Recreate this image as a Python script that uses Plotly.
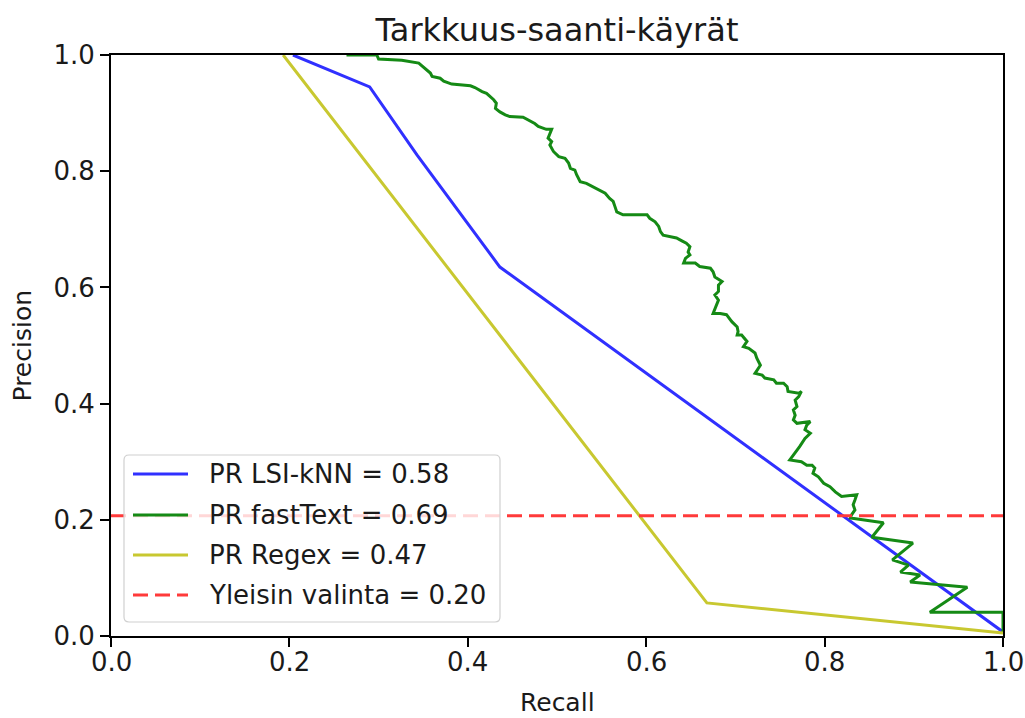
import plotly.graph_objects as go

# ---- data ----
lsi_recall = [0.204, 0.290, 0.343, 0.436, 1.0]
lsi_precision = [1.0, 0.945, 0.828, 0.635, 0.007]

regex_recall = [0.193, 0.668, 1.0]
regex_precision = [1.0, 0.057, 0.005]

ft_recall = [0.264, 0.298, 0.300, 0.326, 0.345, 0.348, 0.354, 0.358, 0.360, 0.369,
             0.373, 0.382, 0.403, 0.408, 0.416, 0.421, 0.429, 0.432, 0.431, 0.436,
             0.442, 0.447, 0.462, 0.470, 0.475, 0.479, 0.488, 0.494, 0.492, 0.490,
             0.494, 0.492, 0.496, 0.502, 0.509, 0.513, 0.515, 0.520, 0.522, 0.526,
             0.533, 0.541, 0.546, 0.554, 0.559, 0.563, 0.565, 0.567, 0.574, 0.601,
             0.604, 0.610, 0.614, 0.616, 0.619, 0.627, 0.634, 0.640, 0.645, 0.649,
             0.647, 0.649, 0.644, 0.642, 0.655, 0.660, 0.672, 0.675, 0.677, 0.685,
             0.681, 0.681, 0.677, 0.681, 0.677, 0.675, 0.683, 0.690, 0.696, 0.702,
             0.703, 0.702, 0.707, 0.713, 0.709, 0.715, 0.722, 0.724, 0.728, 0.724,
             0.722, 0.730, 0.733, 0.743, 0.746, 0.754, 0.758, 0.759, 0.771, 0.774,
             0.771, 0.767, 0.769, 0.765, 0.767, 0.765, 0.769, 0.784, 0.780, 0.778,
             0.784, 0.778, 0.772, 0.761, 0.774, 0.780, 0.786, 0.789, 0.787, 0.793,
             0.799, 0.806, 0.812, 0.819, 0.836, 0.834, 0.832, 0.834, 0.830, 0.829,
             0.866, 0.853, 0.899, 0.876, 0.894, 0.885, 0.907, 0.896, 0.960, 0.918,
             1.0, 1.0]
ft_precision = [1.0, 1.0, 0.993, 0.991, 0.986, 0.982, 0.974, 0.969, 0.963, 0.960,
                0.955, 0.950, 0.947, 0.944, 0.937, 0.934, 0.923, 0.917, 0.908, 0.902,
                0.897, 0.894, 0.893, 0.887, 0.882, 0.877, 0.872, 0.872, 0.865, 0.857,
                0.851, 0.845, 0.834, 0.825, 0.822, 0.814, 0.805, 0.802, 0.794, 0.782,
                0.779, 0.773, 0.768, 0.762, 0.753, 0.748, 0.739, 0.730, 0.725, 0.725,
                0.719, 0.713, 0.705, 0.696, 0.690, 0.687, 0.685, 0.680, 0.676, 0.670,
                0.661, 0.656, 0.650, 0.642, 0.642, 0.636, 0.633, 0.627, 0.618, 0.610,
                0.604, 0.593, 0.587, 0.578, 0.564, 0.555, 0.555, 0.553, 0.541, 0.532,
                0.524, 0.518, 0.518, 0.507, 0.498, 0.495, 0.487, 0.478, 0.466, 0.458,
                0.452, 0.449, 0.444, 0.441, 0.435, 0.435, 0.429, 0.421, 0.418, 0.421,
                0.412, 0.406, 0.395, 0.389, 0.380, 0.372, 0.366, 0.369, 0.363, 0.355,
                0.349, 0.340, 0.326, 0.303, 0.300, 0.294, 0.294, 0.289, 0.280, 0.274,
                0.263, 0.257, 0.248, 0.240, 0.243, 0.234, 0.226, 0.217, 0.208, 0.203,
                0.195, 0.170, 0.160, 0.131, 0.122, 0.110, 0.105, 0.093, 0.084, 0.041,
                0.041, 0.007]

baseline = 0.207
baseline_x = [0.0, 1.0]

legend_labels = ["PR LSI-kNN = 0.58", "PR fastText = 0.69", "PR Regex = 0.47",
                 "Yleisin valinta = 0.20"]
tick_vals = [0.0, 0.2, 0.4, 0.6, 0.8, 1.0]
tick_text = ["0.0", "0.2", "0.4", "0.6", "0.8", "1.0"]

# ---- styles ----
C_BLUE = "#3030ff"
C_GREEN = "#158a15"
C_YELLOW = "#c8c830"
C_RED = "#ff3a3a"
LW = 3
FONT = "DejaVu Sans"
TXT = "#1a1a1a"

fig = go.Figure()
fig.add_trace(go.Scatter(x=lsi_recall, y=lsi_precision, mode="lines",
                         line=dict(color=C_BLUE, width=LW), name=legend_labels[0],
                         showlegend=False))
fig.add_trace(go.Scatter(x=ft_recall, y=ft_precision, mode="lines",
                         line=dict(color=C_GREEN, width=LW), name=legend_labels[1],
                         showlegend=False))
fig.add_trace(go.Scatter(x=regex_recall, y=regex_precision, mode="lines",
                         line=dict(color=C_YELLOW, width=LW), name=legend_labels[2],
                         showlegend=False))
fig.add_trace(go.Scatter(x=baseline_x, y=[baseline] * len(baseline_x), mode="lines",
                         line=dict(color=C_RED, width=LW, dash="15px,7px"),
                         name=legend_labels[3], showlegend=False))

# ---- manual matplotlib-style legend (paper coords) ----
MARGIN_L, MARGIN_R, MARGIN_T, MARGIN_B = 111, 22, 55, 82
W_PLOT, H_PLOT = 1025 - MARGIN_L - MARGIN_R, 718 - MARGIN_T - MARGIN_B
def px(xp):
    return (xp - MARGIN_L) / W_PLOT
def py(yp):
    return (MARGIN_T + H_PLOT - yp) / H_PLOT

shapes = []
x0, x1, y0, y1 = px(124), px(500), py(622), py(455)
rx, ry = 5 / W_PLOT, 5 / H_PLOT
path = (f"M {x0+rx},{y0} L {x1-rx},{y0} Q {x1},{y0} {x1},{y0+ry} "
        f"L {x1},{y1-ry} Q {x1},{y1} {x1-rx},{y1} L {x0+rx},{y1} "
        f"Q {x0},{y1} {x0},{y1-ry} L {x0},{y0+ry} Q {x0},{y0} {x0+rx},{y0} Z")
shapes.append(dict(type="path", path=path, xref="paper", yref="paper",
                   fillcolor="rgba(255,255,255,0.8)",
                   line=dict(color="#d0d0d0", width=1.2), layer="above"))
rows = [474, 515, 555, 595]
colors = [C_BLUE, C_GREEN, C_YELLOW, C_RED]
dashes = ["solid", "solid", "solid", "15px,7px"]
annotations = []
for r, c, d, lab in zip(rows, colors, dashes, legend_labels):
    shapes.append(dict(type="line", xref="paper", yref="paper",
                       x0=px(133), x1=px(188), y0=py(r), y1=py(r),
                       line=dict(color=c, width=LW, dash=d), layer="above"))
    annotations.append(dict(x=px(207), y=py(r), xref="paper", yref="paper",
                            text=lab, showarrow=False, xanchor="left",
                            yanchor="middle",
                            font=dict(family=FONT, size=26, color=TXT)))

# x tick labels as text placed on the x axis values
for v, t in zip(tick_vals, tick_text):
    annotations.append(dict(x=v, y=py(662), xref="x", yref="paper", text=t,
                            showarrow=False, xanchor="center", yanchor="middle",
                            font=dict(family=FONT, size=26, color=TXT)))

annotations.append(dict(x=0.5, y=py(702), xref="paper", yref="paper", text="Recall",
                        showarrow=False, xanchor="center", yanchor="middle",
                        font=dict(family=FONT, size=25, color=TXT)))
annotations.append(dict(x=px(22), y=0.5, xref="paper", yref="paper", text="Precision",
                        showarrow=False, xanchor="center", yanchor="middle",
                        textangle=-90, font=dict(family=FONT, size=25, color=TXT)))

axis_common = dict(range=[0, 1], tickmode="array", tickvals=tick_vals,
                   ticktext=tick_text, ticks="outside", ticklen=9, tickwidth=2,
                   tickcolor="black", showline=True, linecolor="black",
                   linewidth=2, mirror=True, showgrid=False, zeroline=False,
                   tickfont=dict(family=FONT, size=26, color=TXT), fixedrange=True)

fig.update_layout(
    width=1025, height=718, autosize=False,
    margin=dict(l=MARGIN_L, r=MARGIN_R, t=MARGIN_T, b=MARGIN_B, pad=0),
    paper_bgcolor="white", plot_bgcolor="white",
    title=dict(text="Tarkkuus-saanti-käyrät", x=0.5, xref="paper",
               y=1 - 30 / 718, yref="container", xanchor="center", yanchor="middle",
               font=dict(family=FONT, size=32, color=TXT)),
    xaxis=dict(axis_common, showticklabels=False),
    yaxis=axis_common,
    shapes=shapes,
    annotations=annotations,
    showlegend=False,
)

fig.write_html("out.html")
